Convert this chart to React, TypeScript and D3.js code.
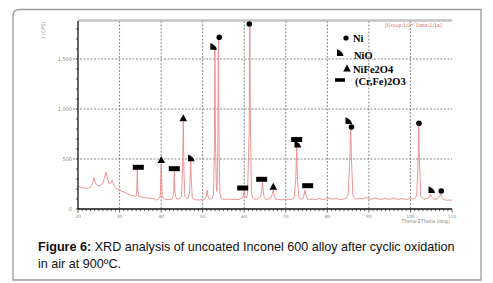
import React from "react";
import * as d3 from "d3";

// ---- data ----
const profileTheta = [
  20.0, 20.5, 21.0, 21.5, 22.0, 22.5, 23.0, 23.5, 23.85, 24.2, 24.6, 25.0, 25.5, 26.0, 26.4, 26.74, 27.1, 27.5, 27.9, 28.25,
  28.6, 29.0, 29.5, 30.0, 30.5, 31.0, 31.5, 32.0, 32.5, 33.0, 33.5, 34.0, 34.15, 34.27, 34.4, 34.6, 35.0, 35.5, 36.0, 36.5,
  37.0, 37.5, 38.0, 38.5, 38.9, 39.3, 39.8, 39.92, 40.04, 40.16, 40.3, 40.7, 41.2, 41.7, 42.2, 42.7, 43.0, 43.17, 43.3, 43.6,
  44.0, 44.5, 44.9, 45.15, 45.34, 45.5, 45.7, 46.1, 46.5, 46.8, 47.0, 47.12, 47.25, 47.5, 48.0, 48.5, 49.0, 49.5, 50.0, 50.5,
  50.9, 51.11, 51.3, 51.7, 52.2, 52.6, 52.82, 52.95, 53.08, 53.3, 53.45, 53.62, 53.8, 53.95, 54.15, 54.4, 54.8, 55.5, 56.0, 56.5,
  57.0, 57.5, 58.0, 58.5, 59.0, 59.5, 59.8, 60.0, 60.2, 60.5, 60.8, 61.2, 61.35, 61.5, 61.75, 62.1, 62.5, 63.0, 63.5, 64.0,
  64.25, 64.4, 64.55, 64.8, 65.2, 65.8, 66.4, 66.75, 66.99, 67.2, 67.6, 68.2, 69.0, 69.5, 70.0, 70.5, 71.0, 71.5, 72.0, 72.42,
  72.62, 72.82, 73.15, 73.6, 74.1, 74.4, 74.62, 74.85, 75.3, 75.8, 76.5, 77.0, 77.5, 78.0, 78.5, 79.0, 79.5, 80.0, 80.5, 81.0,
  81.5, 82.0, 82.5, 83.0, 83.5, 84.0, 84.5, 85.0, 85.42, 85.62, 85.82, 86.15, 86.6, 87.2, 87.8, 88.5, 89.0, 89.3, 89.6, 90.0,
  90.5, 91.0, 91.5, 92.0, 92.5, 93.0, 93.5, 94.0, 94.5, 95.0, 95.5, 96.0, 96.5, 97.0, 97.5, 98.0, 98.5, 99.0, 99.5, 100.0,
  100.5, 101.0, 101.5, 101.85, 102.0, 102.15, 102.5, 103.0, 103.5, 104.0, 104.5, 104.8, 105.1, 105.6, 106.2, 106.8, 107.3, 107.6, 108.0, 108.5,
  109.0, 109.5, 110.0,
];
const profileCounts = [
  230, 222, 215, 212, 206, 210, 218, 255, 313, 262, 238, 232, 240, 262, 320, 370, 300, 252, 262, 290,
  240, 212, 200, 190, 178, 170, 160, 150, 142, 136, 130, 128, 200, 390, 180, 126, 122, 118, 115, 112,
  110, 108, 106, 100, 88, 98, 130, 300, 457, 280, 120, 100, 96, 94, 95, 100, 150, 373, 170, 105,
  100, 104, 120, 400, 873, 380, 130, 105, 108, 150, 350, 483, 300, 110, 95, 92, 90, 92, 94, 98,
  130, 190, 125, 100, 102, 140, 600, 1600, 700, 190, 175, 500, 1690, 600, 160, 110, 98, 95, 100, 96,
  93, 98, 96, 94, 100, 105, 130, 190, 125, 110, 150, 800, 1820, 800, 150, 105, 100, 98, 104, 130,
  200, 270, 190, 115, 100, 98, 110, 150, 190, 140, 100, 95, 92, 96, 94, 97, 95, 98, 110, 300,
  620, 300, 115, 100, 105, 140, 190, 135, 100, 96, 98, 94, 100, 105, 98, 96, 100, 108, 112, 102,
  98, 108, 100, 96, 98, 100, 105, 140, 500, 820, 480, 140, 105, 100, 104, 102, 110, 122, 108, 100,
  98, 104, 112, 104, 98, 96, 100, 106, 100, 98, 104, 110, 100, 96, 100, 104, 98, 96, 100, 104,
  100, 106, 130, 480, 840, 480, 130, 104, 98, 104, 120, 150, 118, 100, 96, 115, 150, 115, 94, 90,
  88, 90, 86,
];

// phase markers on the pattern: type, 2theta, counts
const markerType = [
  "rect", "tri", "rect", "tri", "nio", "nio", "ni", "ni", "rect", "rect",
  "tri", "rect", "nio", "rect", "nio", "ni", "ni", "nio", "ni",
];
const markerTheta = [
  34.51, 40.04, 43.17, 45.34, 47.19, 52.56, 54.0, 61.22, 59.63, 64.2,
  66.99, 72.62, 72.82, 75.27, 85.09, 85.81, 102.05, 105.06, 107.42,
];
const markerCounts = [
  417, 490, 403, 907, 507, 1623, 1717, 1850, 210, 297,
  223, 695, 645, 233, 880, 820, 857, 190, 180,
];

const legendTypes = ["ni", "nio", "tri", "rect"];
const legendLabels = ["Ni", "NiO", "NiFe2O4", "(Cr,Fe)2O3"];

const xTickValues = [20, 30, 40, 50, 60, 70, 80, 90, 100, 110];
const yTickValues = [0, 500, 1000, 1500];

const W = 493;
const H = 283;
const plot = { left: 78, right: 452, top: 21, bottom: 209 };

function Marker({ type, x, y, legend }: { type: string; x: number; y: number; legend?: boolean }) {
  const fill = "#000";
  if (type === "ni") return <circle cx={x} cy={y} r={legend ? 2.6 : 2.8} fill={fill} />;
  if (type === "tri")
    return <path d={`M${x},${y - 4} L${x + 3.8},${y + 3} L${x - 3.8},${y + 3} Z`} fill={fill} />;
  if (type === "nio")
    return (
      <path
        d={`M${x - 3},${y - 3.8} L${x - 3},${y + 3} L${x + 3.6},${y + 3} Q${x + 2.8},${y - 1.8} ${x - 3},${y - 3.8} Z`}
        fill={fill}
      />
    );
  // rect
  const w = legend ? 10 : 11;
  const h = legend ? 3.6 : 5;
  return <rect x={x - w / 2} y={y - h / 2} width={w} height={h} fill={fill} />;
}

export default function App() {
  const x = d3.scaleLinear().domain([20, 110]).range([plot.left, plot.right]);
  const y = d3.scaleLinear().domain([0, 1880]).range([plot.bottom, plot.top]);

  const pts: [number, number][] = profileTheta.map((t, i) => [t, profileCounts[i]]);
  const line = d3
    .line<[number, number]>()
    .x((d) => x(d[0]))
    .y((d) => y(d[1]));

  const minorX = d3.range(20, 111, 1);
  const minorY = d3.range(0, 1801, 100);

  const legendPos = [
    { mx: 346, my: 38, tx: 353, ty: 41.5 },
    { mx: 340, my: 53, tx: 354, ty: 59 },
    { mx: 347, my: 68.5, tx: 353, ty: 72.8 },
    { mx: 340, my: 80, tx: 355, ty: 84.6 },
  ];

  return (
    <svg
      width={W}
      height={H}
      viewBox={`0 0 ${W} ${H}`}
      style={{ position: "absolute", left: 0, top: 0, background: "#fff" }}
    >
      <rect x={0} y={0} width={W} height={H} fill="#fff" />
      {/* outer frame */}
      <path
        d={`M13,280 L13,16 Q13,9.5 20,9.5 L481,9.5 L481,280 Z`}
        fill="none"
        stroke="#9a9a9a"
        strokeWidth={1.3}
      />

      {/* grid */}
      {xTickValues.slice(1, -1).map((t) => (
        <line
          key={"gx" + t}
          x1={x(t)}
          x2={x(t)}
          y1={plot.top}
          y2={plot.bottom}
          stroke="#5a5a5a"
          strokeWidth={0.7}
          strokeDasharray="2,1.5"
        />
      ))}
      {yTickValues.slice(1).map((t) => (
        <line
          key={"gy" + t}
          x1={plot.left - 5}
          x2={plot.right}
          y1={y(t)}
          y2={y(t)}
          stroke="#5a5a5a"
          strokeWidth={0.7}
          strokeDasharray="2,1.5"
        />
      ))}
      {/* top band */}
      <line x1={plot.left} x2={plot.right} y1={plot.top - 0.5} y2={plot.top - 0.5} stroke="#c4c4c4" strokeWidth={2.5} />

      {/* profile */}
      <path d={line(pts) || ""} fill="none" stroke="#ea8a8a" strokeWidth={0.9} />

      {/* axes */}
      <line x1={plot.left} x2={plot.left} y1={plot.top} y2={plot.bottom} stroke="#111" strokeWidth={1.3} />
      <line x1={plot.left} x2={plot.right} y1={plot.bottom} y2={plot.bottom} stroke="#111" strokeWidth={1.5} />
      {minorY.map((t) => (
        <line key={"my" + t} x1={plot.left - 2.2} x2={plot.left} y1={y(t)} y2={y(t)} stroke="#222" strokeWidth={0.7} />
      ))}
      {minorX.map((t) => (
        <line
          key={"mx" + t}
          x1={x(t)}
          x2={x(t)}
          y1={plot.bottom}
          y2={plot.bottom + (t % 10 === 0 ? 3.5 : 2.2)}
          stroke="#222"
          strokeWidth={0.7}
        />
      ))}
      {yTickValues.map((t) => (
        <text
          key={"yl" + t}
          x={plot.left - 6}
          y={y(t) + 1.8}
          fontSize={5}
          fill="#888"
          textAnchor="end"
          fontFamily="DejaVu Sans, sans-serif"
        >
          {t === 0 ? "0" : d3.format(",")(t)}
        </text>
      ))}
      {xTickValues.map((t) => (
        <text
          key={"xl" + t}
          x={x(t)}
          y={plot.bottom + 9}
          fontSize={4.5}
          fill="#888"
          textAnchor="middle"
          fontFamily="DejaVu Sans, sans-serif"
        >
          {t}
        </text>
      ))}
      <text x={450} y={222.5} fontSize={5} fill="#888" textAnchor="end" fontFamily="DejaVu Sans, sans-serif">
        Theta-2Theta (deg)
      </text>
      <text
        transform="translate(45,30) rotate(-90)"
        fontSize={5}
        fill="#999"
        textAnchor="middle"
        fontFamily="DejaVu Sans, sans-serif"
      >
        I (CPS)
      </text>
      <text x={385} y={26.8} fontSize={4.8} fill="#e4606e" fontFamily="DejaVu Sans, sans-serif">
        [Group:1/1*, Data:1/1a]
      </text>

      {/* phase markers */}
      {markerType.map((m, i) => (
        <Marker key={"m" + i} type={m} x={x(markerTheta[i])} y={y(markerCounts[i])} />
      ))}

      {/* legend */}
      {legendTypes.map((m, i) => (
        <g key={"lg" + i}>
          <Marker type={m} x={legendPos[i].mx} y={legendPos[i].my} legend />
          <text
            x={legendPos[i].tx}
            y={legendPos[i].ty}
            fontSize={10.5}
            fontWeight="bold"
            fontFamily="Liberation Serif, serif"
            fill="#000"
          >
            {legendLabels[i]}
          </text>
        </g>
      ))}

      {/* caption */}
      <text x={38} y={250.5} fontSize={12.6} fontFamily="Liberation Sans, Arial, sans-serif" fill="#111">
        <tspan fontWeight="bold">Figure 6:</tspan> XRD analysis of uncoated Inconel 600 alloy after cyclic oxidation
      </text>
      <text x={38} y={267.5} fontSize={12.6} fontFamily="Liberation Sans, Arial, sans-serif" fill="#111">
        in air at 900ºC.
      </text>
    </svg>
  );
}
